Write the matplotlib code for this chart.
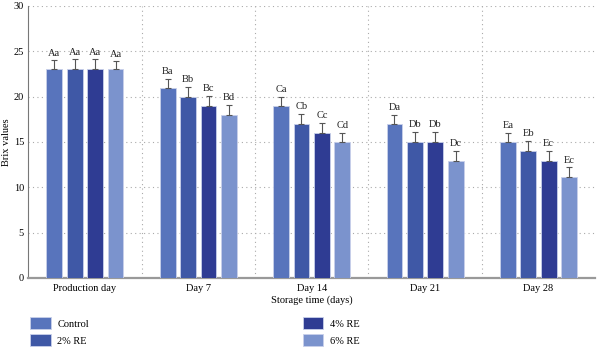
import numpy as np
import matplotlib
matplotlib.use("Agg")
import matplotlib.pyplot as plt

groups = ["Production day", "Day 7", "Day 14", "Day 21", "Day 28"]
series = ["Control", "2% RE", "4% RE", "6% RE"]
colors = ["#5874BC", "#3F58A6", "#2F3C93", "#7B93CD"]

control = [23.0, 21.0, 19.0, 17.0, 15.0]
re2 = [23.0, 20.0, 17.0, 15.0, 14.0]
re4 = [23.0, 19.0, 16.0, 15.0, 12.9]
re6 = [23.0, 18.0, 15.0, 12.9, 11.1]

err_control = [1.0, 1.0, 1.0, 1.0, 1.0]
err_re2 = [1.1, 1.1, 1.1, 1.1, 1.1]
err_re4 = [1.1, 1.1, 1.1, 1.1, 1.1]
err_re6 = [0.9, 1.1, 1.0, 1.1, 1.1]

lab_control = ["Aa", "Ba", "Ca", "Da", "Ea"]
lab_re2 = ["Aa", "Bb", "Cb", "Db", "Eb"]
lab_re4 = ["Aa", "Bc", "Cc", "Db", "Ec"]
lab_re6 = ["Aa", "Bd", "Cd", "Dc", "Ec"]

values = [control, re2, re4, re6]
errors = [err_control, err_re2, err_re4, err_re6]
letters = [lab_control, lab_re2, lab_re4, lab_re6]

plt.rcParams["font.family"] = ["Liberation Serif", "DejaVu Serif"]

fig = plt.figure(figsize=(6.0, 3.51), dpi=100)
ax = fig.add_axes([0.047, 0.208, 0.945, 0.775])

x = np.arange(len(groups))
width = 0.14
step = 0.18
offsets = (np.arange(len(series)) - 1.5) * step

for i, name in enumerate(series):
    xs = x + offsets[i]
    ax.bar(xs, values[i], width, color=colors[i], edgecolor="#c8d0ea",
           linewidth=0.6, label=name, zorder=3)
    ax.errorbar(xs, values[i], yerr=[np.zeros(len(groups)), errors[i]],
                fmt="none", ecolor="#555555", elinewidth=0.8, capsize=2.5,
                capthick=0.8, zorder=4)
    for xi, v, e, t in zip(xs, values[i], errors[i], letters[i]):
        ax.text(xi, v + e + 0.3, t, ha="center", va="bottom", fontsize=7.5,
                color="#222222")

ax.set_xlim(-0.5, len(groups) - 0.5)
ax.set_ylim(0, 30)
ax.set_yticks(range(0, 31, 5))
ax.set_xticks(x)
ax.set_xticklabels(groups)
ax.set_xticks(np.arange(0.5, len(groups) - 1, 1.0), minor=True)
ax.tick_params(axis="x", which="both", length=0, labelsize=7.5, pad=4)
ax.tick_params(axis="y", length=0, labelsize=7.5, pad=3)

ax.grid(axis="y", which="major", linestyle=(0, (1, 3)), color="#aaaaaa",
        linewidth=0.8, zorder=0)
ax.grid(axis="x", which="minor", linestyle=(0, (1, 3)), color="#aaaaaa",
        linewidth=0.8, zorder=0)

for s in ["top", "right"]:
    ax.spines[s].set_visible(False)
ax.spines["left"].set_color("#777777")
ax.spines["left"].set_linewidth(0.8)
ax.spines["bottom"].set_color("#999999")
ax.spines["bottom"].set_linewidth(1.6)

ax.set_xlabel("Storage time (days)", fontsize=7.5, labelpad=2)
ax.set_ylabel("Brix values", fontsize=7.5)
ax.yaxis.set_label_coords(-0.03, 0.5)

fig.legend(loc="lower left", bbox_to_anchor=(0.035, -0.012), ncol=2,
           frameon=False, fontsize=7.5, handlelength=2.0, handleheight=1.3,
           columnspacing=20.5, labelspacing=0.55, handletextpad=0.6)

fig.savefig("out.png", dpi=100)
